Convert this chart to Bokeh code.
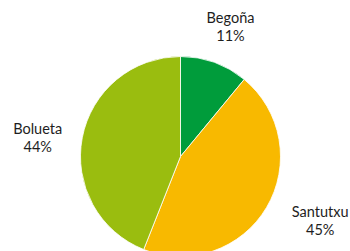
import math
from bokeh.plotting import figure
from bokeh.models import Range1d, ColumnDataSource
from bokeh.core.properties import value
from bokeh.embed import file_html
from bokeh.resources import INLINE

# Data
categories = ["Begoña", "Santutxu", "Bolueta"]
shares = [11, 45, 44]
colors = ["#009c3b", "#f8b900", "#9abd0f"]

# Layout (picture px from top-left)
W, H = 350, 251
CX_PX, CY_PX, R = 180, 156, 100
LABEL_R = 124
label_nudge = [(8, -13), (33, 1), (-21, 4)]  # pixel nudges (x right, y down)

def dx(px):
    return px

def dy(py):
    return H - py

p = figure(width=W, height=H, output_backend="svg", toolbar_location=None,
           x_range=Range1d(0, W), y_range=Range1d(0, H),
           min_border=0)
p.axis.visible = False
p.grid.visible = False
p.outline_line_color = None
p.background_fill_color = "white"
p.border_fill_color = "white"

total = sum(shares)
cum = 0.0
starts, ends, mids = [], [], []
for s in shares:
    a0 = math.pi / 2 - cum / total * 2 * math.pi
    cum += s
    a1 = math.pi / 2 - cum / total * 2 * math.pi
    starts.append(a1)
    ends.append(a0)
    mids.append((a0 + a1) / 2)

src = ColumnDataSource(dict(x=[dx(CX_PX)] * 3, y=[dy(CY_PX)] * 3,
                            start=starts, end=ends, color=colors))
p.wedge(x="x", y="y", radius=R, start_angle="start", end_angle="end",
        fill_color="color", line_color="white", line_width=0.8, source=src)

names_x, names_y, pct_x, pct_y, names, pcts = [], [], [], [], [], []
for cat, s, m, (nx, ny) in zip(categories, shares, mids, label_nudge):
    ax = dx(CX_PX) + LABEL_R * math.cos(m) + nx
    ay = dy(CY_PX) + LABEL_R * math.sin(m) - ny
    names_x.append(ax); names_y.append(ay + 9)
    pct_x.append(ax); pct_y.append(ay - 9)
    names.append(cat); pcts.append(f"{s}%")

txt = dict(text_font=value("Lato"), text_font_size="14.5px", text_color="#1e1e1e",
           text_align="center", text_baseline="middle")
p.text(x=names_x, y=names_y, text=names, **txt)
p.text(x=pct_x, y=pct_y, text=pcts, **txt)

open("out.html", "w").write(file_html(p, INLINE))
